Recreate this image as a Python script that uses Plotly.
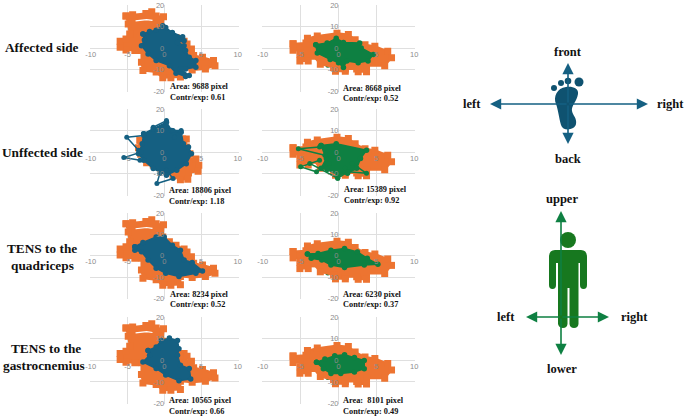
import plotly.graph_objects as go

W, H = 685, 417

ORANGE_A_X = [-5.2,-4.3,-2.5,-1.7,-1.1,-0.1,-0.2,0.7,1.6,2.7,3.1,2.9,3.7,4.0,5.2,6.7,6.9,5.6,3.8,2.2,2.2,0.9,-0.2,-1.1,-2.9,-3.1,-3.1,-4,-5.2,-6,-6,-5.2,-4.7,-4.9]
ORANGE_A_Y = [14.9,15.4,16,16.8,14.9,14.5,8.8,6.5,4.9,3.1,1.8,-1.2,-0.5,-3.5,-4.3,-5.8,-8.2,-9.7,-10.2,-9.7,-13.5,-13.8,-13.8,-11.2,-10.5,-6.6,-1.2,-1.2,-0.9,0.3,3.1,4.2,6.5,11.1]
ORANGE_U_X = [-3.3,-1.5,1.5,2.5,3.0,3.0,3.5,3.1,4.3,4.7,4.6,3.3,3.2,2.2,1.2,0.4,-1.5,-2.4,-3.2,-3.5]
ORANGE_U_Y = [5.4,8.2,6.6,6,6,2.3,-0.8,-2.5,-3.2,-6.2,-8.9,-9.8,-12.6,-12.9,-11.2,-9.2,-6,-5,-1,2]
ORANGE_B_X = [-6,-4.3,-4.1,-2.8,-0.2,1.3,2.2,3.5,4.8,6.5,7,6.1,3.7,3.7,2.6,2.4,0.9,0.9,-0.4,-0.65,-2.4,-3.3,-4,-4,-5.1,-5.1,-4.1,-6]
ORANGE_B_Y = [2,2.3,4.5,5.6,6.8,6.3,3.8,1.5,0.8,-1.5,-4.5,-8.3,-8.3,-11,-11,-9.8,-9.8,-10.8,-10.8,-9,-7.5,-3.8,-3.5,-6,-6,-3,-1.5,-1]
ORANGE_GAP_X = [-3.9,-2.4,-1.6]
ORANGE_GAP_Y = [12.6,13.2,12.8]
GREEN_STRAY_X = [-4.0,-3.1,None,-1.4,-0.6]
GREEN_STRAY_Y = [-3.6,-3.4,None,-8.0,-8.6]

BLUE1_X = [-2.9,-2,-1.1,-0.2,0.2,1.1,2.5,2.7,1.8,2.7,2.9,3.4,4.3,4.3,2.9,2.2,3.4,2.9,1.6,0.7,-1.1,-2.2,-3.1,-2.7]
BLUE1_Y = [6.5,7.7,8.3,10.3,9.5,7.2,5.2,3.4,2.6,1.1,-1.2,-4.3,-5.8,-8.9,-9.7,-9.7,-12.8,-13.2,-11.7,-8.2,-5.8,-2.8,1.1,3.7]
BLUE2_X = [-2.8,-1.5,0.3,1,2.3,2.6,3.3,3.7,3,1.7,0.3,-1.5,-2.8,-3.5,-3]
BLUE2_Y = [8.5,10.8,13.8,10,9.2,3.8,2.3,-0.8,-5.4,-8.5,-10.8,-7.7,-3.8,-0.8,3.8]
BLUE2_SCRIBBLE_X = [-2.8,-5.1,-3.5,None,-3.1,-5.5,-3.3,None,-0.6,-1,1.2,0.3,None,-1.5,0.3,-0.6,None,1.2,2.3,1.4]
BLUE2_SCRIBBLE_Y = [7.7,6.9,0.8,None,0,-2.6,-3.8,None,-10,-14.6,-12.3,-8.5,None,11.5,14.6,10,None,10,10,6.9]
BLUE3_X = [-4,-2.9,-1.1,0,1.1,2.2,2.7,3.8,5.2,4.3,2,0.2,-1.1,-2.2,-3.1,-4]
BLUE3_Y = [4.2,6.2,8.8,8.8,4.9,2.6,-2,-3.1,-7.1,-8.2,-9.7,-8.2,-5.8,-2,1.9,2.6]
BLUE4_X = [-2.2,-1.1,-0.4,0.7,1.8,2,1.8,2.2,3.4,3.6,2,0.2,-1.1,-2.9,-2]
BLUE4_Y = [4.5,6.1,9.1,10.3,9.1,5.3,2.3,-2.3,-3.8,-8.6,-9.5,-6.8,-3.8,-0.8,2.3]

GREEN1_X = [-3,-1.5,-0.3,0.65,2.8,3,4.6,3.9,2.6,1.1,0.65,0,-1.1,-2.8]
GREEN1_Y = [1.5,2.3,4.5,2.6,2.3,0,-3,-6,-6.8,-6,-9,-6.8,-5.3,-2.3]
GREEN2_X = [-2.3,-0.3,3.7,2.9,2.4,1.2,-0.1,-1.5,-2.3,-1.6]
GREEN2_Y = [3,3.8,0.8,-3,-7.6,-9.9,-10.5,-8,-7.6,-3]
GREEN2_SCRIBBLE_X = [-2.5,-5.3,-1.8,None,-2.5,-5,-2.9,-1.2,None,-3.8,-0.1,0.9,None,1.2,3.7,1.8,None,-0.1,1.2]
GREEN2_SCRIBBLE_Y = [2.3,1.5,-1.5,None,-3.8,-6.9,-9.2,-5.3,None,-5.3,-12.2,-7.6,None,-9.2,-9.9,-5.3,None,-12.2,-9.2]
GREEN3_X = [-4.1,-2.7,-1,0.8,2.5,3.8,5.2,3.4,0.8,-1,-2.2,-3.6]
GREEN3_Y = [0.8,1.1,2.6,3.4,1.8,-1.2,-4,-4.3,-5.5,-4.3,-2,-1.2]
GREEN4_X = [-2.9,-1.8,-0.5,0.8,2.1,3.4,3.4,2.1,0.3,-1,-2]
GREEN4_Y = [-0.9,0.6,2.1,2.5,1.3,-0.1,-3.9,-5.4,-6.1,-6.1,-3.9]

X_TICKS = [-10,-5,0,5,10]
Y_TICKS = [-20,-10,0,10,20]
X_LABELS = ["-10","-5","0","5","10"]
Y_LABELS = ["-20","-10","0","10","20"]
AREA_TEXT = [["Area: 9688 pixel","Contr/exp: 0.61","Area: 8668 pixel","Contr/exp: 0.52"],
             ["Area: 18806 pixel","Contr/exp: 1.18","Area: 15389 pixel","Contr/exp: 0.92"],
             ["Area: 8234 pixel","Contr/exp: 0.52","Area: 6230 pixel","Contr/exp: 0.37"],
             ["Area: 10565 pixel","Contr/exp: 0.66","Area:  8101 pixel","Contr/exp: 0.49"]]

ORANGE, BLUE, GREEN, PERSON = "#ED7431", "#156082", "#0E8042", "#17781F"
GRID, TICK = "#DFDFDF", "#8C8C8C"
SERIF = "Liberation Serif"

def px(x): return x / W
def py(y): return 1 - y / H

ROWS = [(4.5, 91.5), (108.5, 195.5), (212.5, 299), (316.5, 404)]
COLS = [(90, 238.5), (262, 415)]

fig = go.Figure()
layout = {}
idx = 0

def poly(x, y, color, ax, lw, ms, sym, fill=True):
    fig.add_trace(go.Scatter(x=x + x[:1], y=y + y[:1], mode="lines+markers",
        fill="toself" if fill else None, fillcolor=color,
        line=dict(color=color, width=lw), marker=dict(color=color, size=ms, symbol=sym, line=dict(width=0)),
        xaxis="x%d" % ax, yaxis="y%d" % ax, showlegend=False, hoverinfo="skip"))

def scribble(x, y, color, ax):
    fig.add_trace(go.Scatter(x=x, y=y, mode="lines+markers",
        line=dict(color=color, width=1.5), marker=dict(color=color, size=5, line=dict(width=0)),
        xaxis="x%d" % ax, yaxis="y%d" % ax, showlegend=False, hoverinfo="skip"))

BLUES = [(BLUE1_X, BLUE1_Y), (BLUE2_X, BLUE2_Y), (BLUE3_X, BLUE3_Y), (BLUE4_X, BLUE4_Y)]
GREENS = [(GREEN1_X, GREEN1_Y), (GREEN2_X, GREEN2_Y), (GREEN3_X, GREEN3_Y), (GREEN4_X, GREEN4_Y)]

for r, (yt, yb) in enumerate(ROWS):
    for c, (xl, xr) in enumerate(COLS):
        idx += 1
        s = "" if idx == 1 else str(idx)
        ym = (yt + yb) / 2
        xm = (xl + xr) / 2
        layout["xaxis" + s] = dict(domain=[px(xl), px(xr)], range=[-10.1, 10.1], tickvals=X_TICKS, ticktext=X_LABELS,
            anchor="free", position=py(ym), showline=False, zeroline=False, showgrid=True, gridcolor=GRID, gridwidth=1.4,
            tickfont=dict(size=7.5, color=TICK, family="Liberation Sans"), ticks="", fixedrange=True)
        layout["yaxis" + s] = dict(domain=[py(yb), py(yt)], range=[-20.2, 20.2], tickvals=Y_TICKS, ticktext=Y_LABELS,
            anchor="free", position=px(xm), showline=False, zeroline=False, showgrid=True, gridcolor=GRID, gridwidth=1.4,
            tickfont=dict(size=7.5, color=TICK, family="Liberation Sans"), ticks="", fixedrange=True)
        if c == 0:
            if r == 1:
                poly(ORANGE_U_X, ORANGE_U_Y, ORANGE, idx, 2, 7, "square")
            else:
                poly(ORANGE_A_X, ORANGE_A_Y, ORANGE, idx, 2, 7, "square")
                fig.add_trace(go.Scatter(x=ORANGE_GAP_X, y=ORANGE_GAP_Y, mode="lines", line=dict(color="white", width=1.2),
                    xaxis="x%d" % idx, yaxis="y%d" % idx, showlegend=False, hoverinfo="skip"))
            poly(BLUES[r][0], BLUES[r][1], BLUE, idx, 1.5, 5.5, "circle")
            if r == 1:
                scribble(BLUE2_SCRIBBLE_X, BLUE2_SCRIBBLE_Y, BLUE, idx)
        else:
            scribble(GREEN_STRAY_X, GREEN_STRAY_Y, GREEN, idx)
            poly(ORANGE_B_X, ORANGE_B_Y, ORANGE, idx, 2, 7, "square")
            poly(GREENS[r][0], GREENS[r][1], GREEN, idx, 1.5, 5.5, "circle")
            if r == 1:
                scribble(GREEN2_SCRIBBLE_X, GREEN2_SCRIBBLE_Y, GREEN, idx)

ann = []
def text(t, x, y, size, anchor="center"):
    ann.append(dict(text=t, x=px(x), y=py(y), xref="paper", yref="paper", xanchor=anchor, yanchor="middle",
        showarrow=False, font=dict(family=SERIF, size=size, color="#111111"), borderpad=0))

text("<b>Affected side</b>", 42, 48, 13.3)
text("<b>Unffected side</b>", 42, 153, 13.3)
text("<b>TENS to the</b>", 42, 248, 13.3)
text("<b>quadriceps</b>", 42, 265, 13.3)
text("<b>TENS to the</b>", 46, 348, 13.3)
text("<b>gastrocnemius</b>", 44, 365, 13.3)

AREA_POS = [[(169, 86.7), (169, 97), (342, 88), (342, 99)],
            [(168, 190), (168, 201), (343, 189), (343, 200)],
            [(169, 294), (169, 304.5), (342, 294), (342, 304.5)],
            [(168, 400), (168, 411), (342, 400), (342, 411)]]
for row_t, row_p in zip(AREA_TEXT, AREA_POS):
    for t, (x, y) in zip(row_t, row_p):
        text("<b>%s</b>" % t, x, y, 8.3, "left")

text("<b>front</b>", 568, 52, 12.5)
text("<b>back</b>", 568, 159, 12.5)
text("<b>left</b>", 472, 104, 12.5)
text("<b>right</b>", 670, 104, 12.5)
text("<b>upper</b>", 562, 199, 12.5)
text("<b>lower</b>", 562, 369, 12.5)
text("<b>left</b>", 506, 317, 12.5)
text("<b>right</b>", 634, 317, 12.5)

shapes = []
def pth(cmds):
    out = []
    for c in cmds:
        if isinstance(c, str):
            out.append(c)
        else:
            out.append("%.5f,%.5f" % (px(c[0]), py(c[1])))
    return " ".join(out)

def path_shape(cmds, color, layer="above"):
    shapes.append(dict(type="path", xref="paper", yref="paper", path=pth(cmds), fillcolor=color, line=dict(width=0), layer=layer))

def circle(cx, cy, r, color):
    shapes.append(dict(type="circle", xref="paper", yref="paper", x0=px(cx - r), x1=px(cx + r), y0=py(cy + r), y1=py(cy - r),
                       fillcolor=color, line=dict(width=0)))

def arrow(x0, y0, x1, y1, color):
    ann.append(dict(x=px(x1), y=py(y1), ax=x0 - x1, ay=y0 - y1, xref="paper", yref="paper", axref="pixel", ayref="pixel",
        text="", showarrow=True, arrowhead=2, arrowsize=1.4, arrowwidth=1.6, arrowcolor=color, standoff=0, startstandoff=0))

FOOT = "#0F5270"
for a in [(568, 104, 490, 104), (568, 104, 648, 104), (568, 104, 568, 63), (568, 104, 568, 144)]:
    arrow(*a, BLUE)
for c in [(554, 88, 3), (561, 83, 3), (568, 81, 3.3), (579, 82, 4.5)]:
    circle(*c, FOOT)
path_shape(["M", (566, 87), "C", (572, 86), (579, 88), (578, 94), "C", (577, 101), (571, 106), (572, 111),
            "C", (573, 116), (577, 118), (576, 124), "C", (575, 130), (563, 132), (561, 125),
            "C", (559, 118), (558, 109), (556, 104), "C", (553, 97), (557, 88), (566, 87), "Z"], FOOT)

for a in [(561, 317, 526, 317), (561, 317, 609, 317), (561, 317, 561, 211), (561, 317, 561, 355)]:
    arrow(*a, GREEN)
circle(568, 240, 8, PERSON)
path_shape(["M", (555, 250), "L", (581, 250), "Q", (587, 250), (587, 257), "L", (587, 285), "Q", (587, 289), (583.5, 289),
            "Q", (580, 289), (580, 285), "L", (580, 263), "L", (578.5, 263), "L", (578.5, 324), "Q", (578, 328), (574, 328),
            "Q", (570, 328), (569.5, 324), "L", (569.5, 288), "L", (567.5, 288), "L", (567.5, 324), "Q", (567, 328), (563, 328),
            "Q", (559, 328), (558, 324), "L", (558, 263), "L", (556, 263), "L", (556, 285), "Q", (556, 289), (552.5, 289),
            "Q", (549, 289), (549, 285), "L", (549, 257), "Q", (549, 250), (555, 250), "Z"], PERSON)

fig.update_layout(width=W, height=H, margin=dict(l=0, r=0, t=0, b=0, autoexpand=False), paper_bgcolor="white", plot_bgcolor="white",
                  annotations=ann, shapes=shapes, showlegend=False, **layout)
fig.write_html("out.html", config=dict(displayModeBar=False),
               post_script="document.body.style.margin='0';document.documentElement.style.overflow='hidden';")
